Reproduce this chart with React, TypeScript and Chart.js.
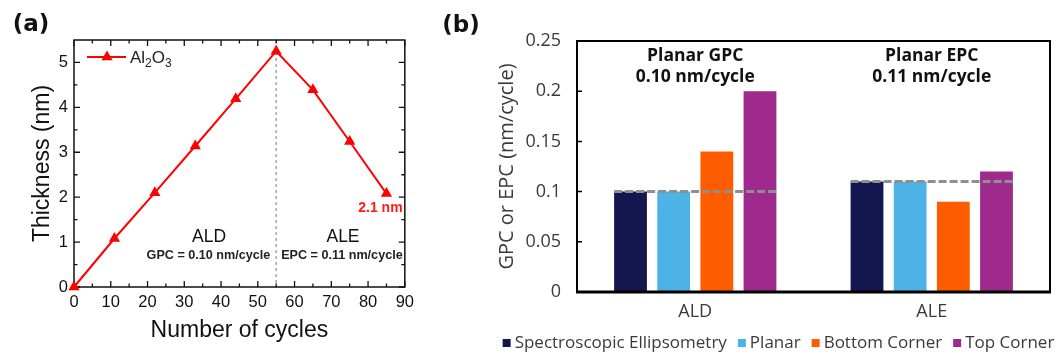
import React, { useEffect, useRef } from "react";
import { Chart, registerables } from "chart.js";

Chart.register(...registerables);

// ---------- Panel (a) data ----------
const cycles = [0, 11, 22, 33, 44, 55, 65, 75, 85];
const thickness = [0, 1.08, 2.1, 3.14, 4.19, 5.25, 4.39, 3.24, 2.08];
const cycleTicks = [0, 10, 20, 30, 40, 50, 60, 70, 80, 90];
const thicknessTicks = [0, 1, 2, 3, 4, 5];
const dividerCycle = 55;
const finalThicknessLabel = "2.1 nm";

// ---------- Panel (b) data ----------
const processes = ["ALD", "ALE"];
const ellipsometry = [0.1, 0.11];
const planar = [0.1, 0.11];
const bottomCorner = [0.14, 0.09];
const topCorner = [0.2, 0.12];
const planarRef = [0.1, 0.11];
const rateTicks = [0, 0.05, 0.1, 0.15, 0.2, 0.25];
const rateTickLabels = ["0", "0.05", "0.1", "0.15", "0.2", "0.25"];
const seriesNames = ["Spectroscopic Ellipsometry", "Planar", "Bottom Corner", "Top Corner"];
const seriesColors = ["#141650", "#4db3e6", "#ff5c00", "#9f2a8e"];
const planarNotes = [
  ["Planar GPC", "0.10 nm/cycle"],
  ["Planar EPC", "0.11 nm/cycle"],
];

const FA = "'Liberation Sans', Arial, sans-serif";
const FB = "'Open Sans', Lato, sans-serif";
const FL = "'DejaVu Sans', Verdana, sans-serif";

function triangle(ctx: CanvasRenderingContext2D, x: number, y: number, r: number) {
  const t = (2 * Math.PI) / 3;
  let a = 0;
  ctx.beginPath();
  ctx.moveTo(x + Math.sin(a) * r, y - Math.cos(a) * r);
  a += t;
  ctx.lineTo(x + Math.sin(a) * r, y - Math.cos(a) * r);
  a += t;
  ctx.lineTo(x + Math.sin(a) * r, y - Math.cos(a) * r);
  ctx.closePath();
  ctx.fill();
}

const panelAPlugin = {
  id: "panelA",
  beforeDatasetsDraw(chart: any) {
    const { ctx, chartArea: ca, scales } = chart;
    const xs = scales.x, ys = scales.y;
    ctx.save();
    const dx = xs.getPixelForValue(dividerCycle);
    ctx.strokeStyle = "#9a9a9a";
    ctx.lineWidth = 1.3;
    ctx.setLineDash([3, 3]);
    ctx.beginPath();
    ctx.moveTo(dx, ca.top);
    ctx.lineTo(dx, ca.bottom);
    ctx.stroke();
    ctx.setLineDash([]);
    ctx.strokeStyle = "#111";
    ctx.lineWidth = 1.5;
    ctx.strokeRect(ca.left, ca.top, ca.right - ca.left, ca.bottom - ca.top);
    ctx.lineWidth = 1.3;
    ctx.beginPath();
    cycleTicks.forEach((v, i) => {
      const px = xs.getPixelForValue(v);
      ctx.moveTo(px, ca.bottom); ctx.lineTo(px, ca.bottom - 6);
      ctx.moveTo(px, ca.top); ctx.lineTo(px, ca.top + 6);
      if (i < cycleTicks.length - 1) {
        const pm = xs.getPixelForValue((v + cycleTicks[i + 1]) / 2);
        ctx.moveTo(pm, ca.bottom); ctx.lineTo(pm, ca.bottom - 3.5);
        ctx.moveTo(pm, ca.top); ctx.lineTo(pm, ca.top + 3.5);
      }
    });
    thicknessTicks.forEach((v) => {
      const py = ys.getPixelForValue(v);
      ctx.moveTo(ca.left, py); ctx.lineTo(ca.left + 6, py);
      ctx.moveTo(ca.right, py); ctx.lineTo(ca.right - 6, py);
      const m = v + 0.5;
      if (m < ys.max) {
        const pm = ys.getPixelForValue(m);
        ctx.moveTo(ca.left, pm); ctx.lineTo(ca.left + 3.5, pm);
        ctx.moveTo(ca.right, pm); ctx.lineTo(ca.right - 3.5, pm);
      }
    });
    ctx.stroke();
    ctx.restore();
  },
  afterDraw(chart: any) {
    const { ctx, scales } = chart;
    const xs = scales.x, ys = scales.y;
    ctx.save();
    ctx.textAlign = "center";
    ctx.textBaseline = "middle";
    ctx.fillStyle = "#111";
    ctx.font = `bold 23px ${FL}`;
    ctx.fillText("(a)", 31, 25);
    const dx = xs.getPixelForValue(dividerCycle);
    ctx.font = `17.5px ${FA}`;
    ctx.fillText("ALD", 209, 237);
    ctx.fillText("ALE", 343, 237);
    ctx.font = `bold 12.6px ${FA}`;
    ctx.fillStyle = "#222";
    ctx.textAlign = "right";
    ctx.fillText("GPC = 0.10 nm/cycle", dx - 6, 256);
    ctx.textAlign = "left";
    ctx.fillText("EPC = 0.11 nm/cycle", dx + 5, 256);
    const lx = xs.getPixelForValue(cycles[cycles.length - 1]);
    const ly = ys.getPixelForValue(thickness[thickness.length - 1]);
    ctx.fillStyle = "#ff1a1a";
    ctx.font = `bold 14px ${FA}`;
    ctx.textAlign = "center";
    ctx.fillText(finalThicknessLabel, lx - 6, ly + 15);
    const legY = 57;
    ctx.strokeStyle = "#ff0000";
    ctx.lineWidth = 2;
    ctx.beginPath();
    ctx.moveTo(87, legY);
    ctx.lineTo(126, legY);
    ctx.stroke();
    ctx.fillStyle = "#ff0000";
    triangle(ctx, 107, legY, 6.5);
    ctx.fillStyle = "#222";
    ctx.textAlign = "left";
    ctx.textBaseline = "alphabetic";
    let x = 130;
    const base = legY + 6;
    ctx.font = `17px ${FA}`;
    ctx.fillText("Al", x, base);
    x += ctx.measureText("Al").width;
    ctx.font = `12px ${FA}`;
    ctx.fillText("2", x, base + 4);
    x += ctx.measureText("2").width;
    ctx.font = `17px ${FA}`;
    ctx.fillText("O", x, base);
    x += ctx.measureText("O").width;
    ctx.font = `12px ${FA}`;
    ctx.fillText("3", x, base + 4);
    ctx.restore();
  },
};

const panelBPlugin = {
  id: "panelB",
  afterDatasetsDraw(chart: any) {
    const { ctx, chartArea: ca, scales } = chart;
    const ys = scales.y, xs = scales.x;
    ctx.save();
    const first = chart.getDatasetMeta(0);
    const last = chart.getDatasetMeta(chart.data.datasets.length - 1);
    ctx.strokeStyle = "#8f8f8f";
    ctx.lineWidth = 3;
    ctx.setLineDash([8, 3]);
    planarRef.forEach((v, i) => {
      const b0 = first.data[i], b1 = last.data[i];
      const x0 = b0.x - b0.width / 2, x1 = b1.x + b1.width / 2;
      const py = ys.getPixelForValue(v);
      ctx.beginPath();
      ctx.moveTo(x0, py);
      ctx.lineTo(x1, py);
      ctx.stroke();
    });
    ctx.setLineDash([]);
    ctx.strokeStyle = "#000";
    ctx.lineWidth = 2;
    ctx.beginPath();
    ctx.moveTo(ca.left, ca.bottom);
    ctx.lineTo(ca.left, ca.top);
    ctx.lineTo(ca.right, ca.top);
    ctx.lineTo(ca.right, ca.bottom);
    ctx.stroke();
    ctx.lineWidth = 3;
    ctx.beginPath();
    ctx.moveTo(ca.left - 1, ca.bottom);
    ctx.lineTo(ca.right + 1, ca.bottom);
    ctx.stroke();
    ctx.lineWidth = 1.5;
    ctx.beginPath();
    rateTicks.forEach((v) => {
      const py = ys.getPixelForValue(v);
      ctx.moveTo(ca.left, py);
      ctx.lineTo(ca.left + 5, py);
    });
    ctx.stroke();
    ctx.fillStyle = "#111";
    ctx.textAlign = "center";
    ctx.textBaseline = "middle";
    ctx.font = `bold 17.5px ${FB}`;
    planarNotes.forEach((lines, i) => {
      const cx = xs.getPixelForValue(i);
      ctx.fillText(lines[0], cx, ca.top + 15);
      ctx.fillText(lines[1], cx, ca.top + 36);
    });
    ctx.restore();
  },
  afterDraw(chart: any) {
    const { ctx } = chart;
    ctx.save();
    ctx.fillStyle = "#111";
    ctx.textAlign = "center";
    ctx.textBaseline = "middle";
    ctx.font = `bold 23px ${FL}`;
    ctx.fillText("(b)", 41, 26);
    ctx.font = `17px ${FB}`;
    const box = 8, gap = 4, itemGap = 11;
    const datasets = chart.data.datasets;
    const widths = datasets.map((d: any) => ctx.measureText(d.label).width);
    const total = widths.reduce((s: number, w: number) => s + box + gap + w, 0) + itemGap * (datasets.length - 1);
    let x = 358.5 - total / 2;
    const y = 343;
    ctx.textAlign = "left";
    datasets.forEach((d: any, i: number) => {
      ctx.fillStyle = d.backgroundColor;
      ctx.fillRect(x, y - box / 2, box, box);
      x += box + gap;
      ctx.fillStyle = "#3a3a3a";
      ctx.fillText(d.label, x, y + 0.5);
      x += widths[i] + itemGap;
    });
    ctx.restore();
  },
};

export default function App() {
  const aRef = useRef<HTMLCanvasElement>(null);
  const bRef = useRef<HTMLCanvasElement>(null);

  useEffect(() => {
    const chartA = new Chart(aRef.current as HTMLCanvasElement, {
      type: "line",
      data: {
        datasets: [
          {
            label: "Al2O3",
            data: cycles.map((c, i) => ({ x: c, y: thickness[i] })),
            borderColor: "#ff0000",
            backgroundColor: "#ff0000",
            borderWidth: 2,
            pointStyle: "triangle",
            pointRadius: 6.5,
            pointBorderWidth: 0,
            tension: 0,
            clip: false as any,
          },
        ],
      },
      options: {
        responsive: false,
        animation: false,
        layout: { padding: { left: 26, right: 11, top: 40, bottom: 9 } },
        plugins: { legend: { display: false }, tooltip: { enabled: false } },
        scales: {
          x: {
            type: "linear",
            min: 0,
            max: 90,
            afterBuildTicks: (s: any) => {
              s.ticks = cycleTicks.map((v) => ({ value: v }));
            },
            afterFit: (s: any) => {
              s.height = 60;
            },
            grid: { display: false, drawTicks: false },
            border: { display: false },
            ticks: { padding: 6, font: { family: FA, size: 16.5 }, color: "#111", maxRotation: 0, autoSkip: false },
            title: {
              display: true,
              text: "Number of cycles",
              font: { family: FA, size: 23 },
              color: "#111",
              padding: { top: 0, bottom: 3 },
            },
          },
          y: {
            type: "linear",
            min: 0,
            max: 5.5,
            afterBuildTicks: (s: any) => {
              s.ticks = thicknessTicks.map((v) => ({ value: v }));
            },
            afterFit: (s: any) => {
              s.width = 48;
            },
            grid: { display: false, drawTicks: false },
            border: { display: false },
            ticks: { padding: 6, font: { family: FA, size: 16.5 }, color: "#111", autoSkip: false },
            title: {
              display: true,
              text: "Thickness (nm)",
              font: { family: FA, size: 23 },
              color: "#111",
              padding: { top: 3, bottom: 0 },
            },
          },
        },
      },
      plugins: [panelAPlugin],
    });

    const seriesData = [ellipsometry, planar, bottomCorner, topCorner];
    const chartB = new Chart(bRef.current as HTMLCanvasElement, {
      type: "bar",
      data: {
        labels: processes,
        datasets: seriesNames.map((n, i) => ({
          label: n,
          data: seriesData[i],
          backgroundColor: seriesColors[i],
          borderWidth: 0,
          categoryPercentage: 0.73,
          barPercentage: 0.76,
        })),
      },
      options: {
        responsive: false,
        animation: false,
        layout: { padding: { left: 73, right: 12, top: 41, bottom: 34 } },
        plugins: { legend: { display: false }, tooltip: { enabled: false } },
        scales: {
          x: {
            grid: { display: false, drawTicks: false },
            border: { display: false },
            ticks: { padding: 9, font: { family: FB, size: 18 }, color: "#3a3a3a" },
            afterFit: (s: any) => {
              s.height = 30;
            },
          },
          y: {
            min: 0,
            max: 0.25,
            afterBuildTicks: (s: any) => {
              s.ticks = rateTicks.map((v) => ({ value: v }));
            },
            afterFit: (s: any) => {
              s.width = 84;
            },
            grid: { display: false, drawTicks: false },
            border: { display: false },
            ticks: {
              padding: 16,
              font: { family: FB, size: 18 },
              color: "#3a3a3a",
              autoSkip: false,
              callback: (_v: any, i: number) => rateTickLabels[i],
            },
            title: {
              display: true,
              text: "GPC or EPC (nm/cycle)",
              font: { family: FB, size: 20 },
              color: "#3a3a3a",
              padding: { top: 2, bottom: 0 },
            },
          },
        },
      },
      plugins: [panelBPlugin],
    });

    return () => {
      chartA.destroy();
      chartB.destroy();
    };
  }, []);

  return (
    <div style={{ position: "absolute", left: 0, top: 0, width: 1062, height: 356, background: "#fff", overflow: "hidden" }}>
      <canvas ref={aRef} width={420} height={356} style={{ position: "absolute", left: 0, top: 0 }} />
      <canvas ref={bRef} width={642} height={356} style={{ position: "absolute", left: 420, top: 0 }} />
    </div>
  );
}
